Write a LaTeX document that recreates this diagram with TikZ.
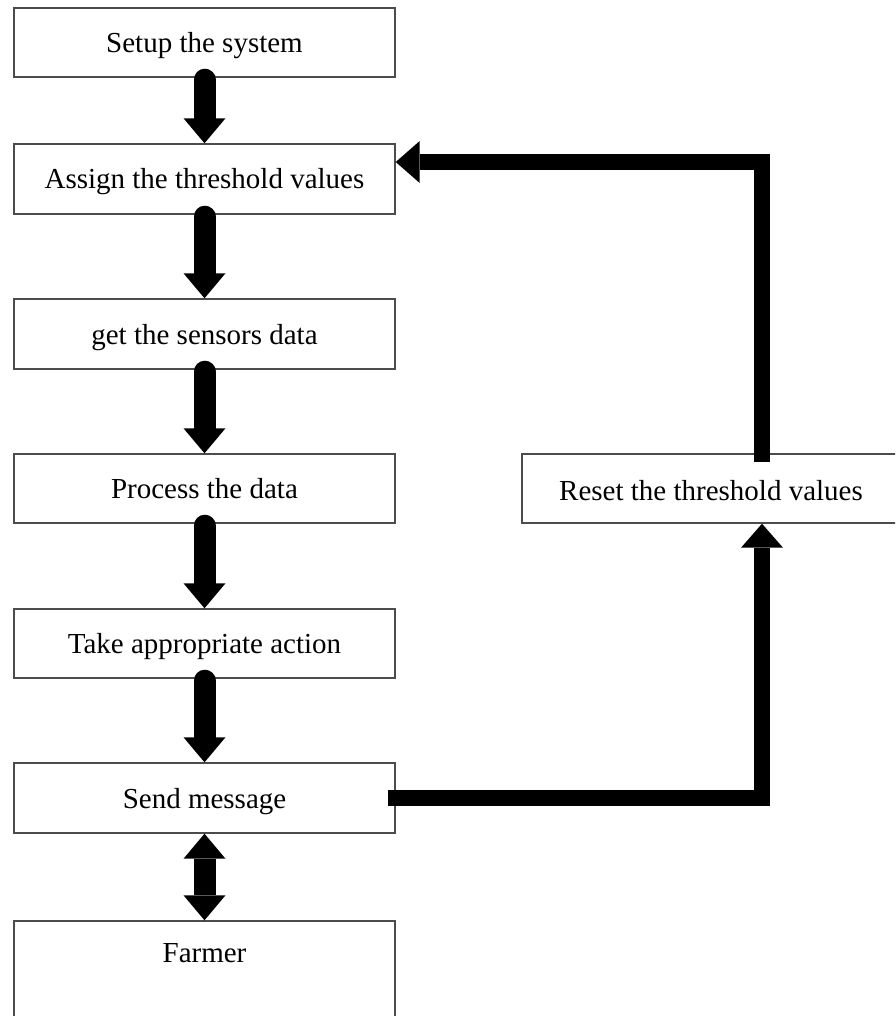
\documentclass[tikz,border=0pt]{standalone}
\usepackage{fontspec}
\setmainfont{Liberation Serif}
\usetikzlibrary{arrows.meta}
\begin{document}
\begin{tikzpicture}[x=1pt,y=-1pt,
  box/.style={draw=black!70, line width=1.4pt, minimum width=381pt, minimum height=70pt,
    inner sep=0pt, font=\fontsize{29}{34}\selectfont, text height=24pt, text depth=4pt},
  tipbig/.tip={Triangle[width=42pt,length=25pt,line width=0pt]},
  tipfb/.tip={Triangle[width=42pt,length=24pt,line width=0pt]},
  down/.style={line width=22pt, line cap=round, -tipbig},
  both/.style={line width=22pt, tipbig-tipbig},
  fb/.style={line width=16pt, line join=miter, -tipfb}
]
\useasboundingbox (0,0) rectangle (895,1016);
\clip (0,0) rectangle (895,1016);
\fill[white] (0,0) rectangle (895,1016);

\node[box, minimum height=69pt] (setup) at (204.5,42.5) {Setup the system};
\node[box] (assign) at (204.5,179) {Assign the threshold values};
\node[box] (sensors) at (204.5,334) {get the sensors data};
\node[box, minimum height=69pt] (process) at (204.5,488.5) {Process the data};
\node[box, minimum height=69pt] (action) at (204.5,643.5) {Take appropriate action};
\node[box] (send) at (204.5,798) {Send message};
\node[box, minimum height=109pt, text depth=51pt] (farmer) at (204.5,975.5) {Farmer};
\node[box, minimum width=378pt, minimum height=69pt, text depth=0pt] (reset) at (711,488.5) {Reset the threshold values};

\draw[down] ([yshift=-2pt]setup.south) -- (assign.north);
\draw[down] ([yshift=-2pt]assign.south) -- (sensors.north);
\draw[down] ([yshift=-2pt]sensors.south) -- (process.north);
\draw[down] ([yshift=-2pt]process.south) -- (action.north);
\draw[down] ([yshift=-2pt]action.south) -- (send.north);
\draw[both] (send.south) -- (farmer.north);

\draw[fb] ([xshift=-8pt]send.east) -| ([xshift=51pt]reset.south);
\draw[fb] ([xshift=51pt,yshift=-9pt]reset.north) |- ([yshift=17pt]assign.east);
\end{tikzpicture}
\end{document}
